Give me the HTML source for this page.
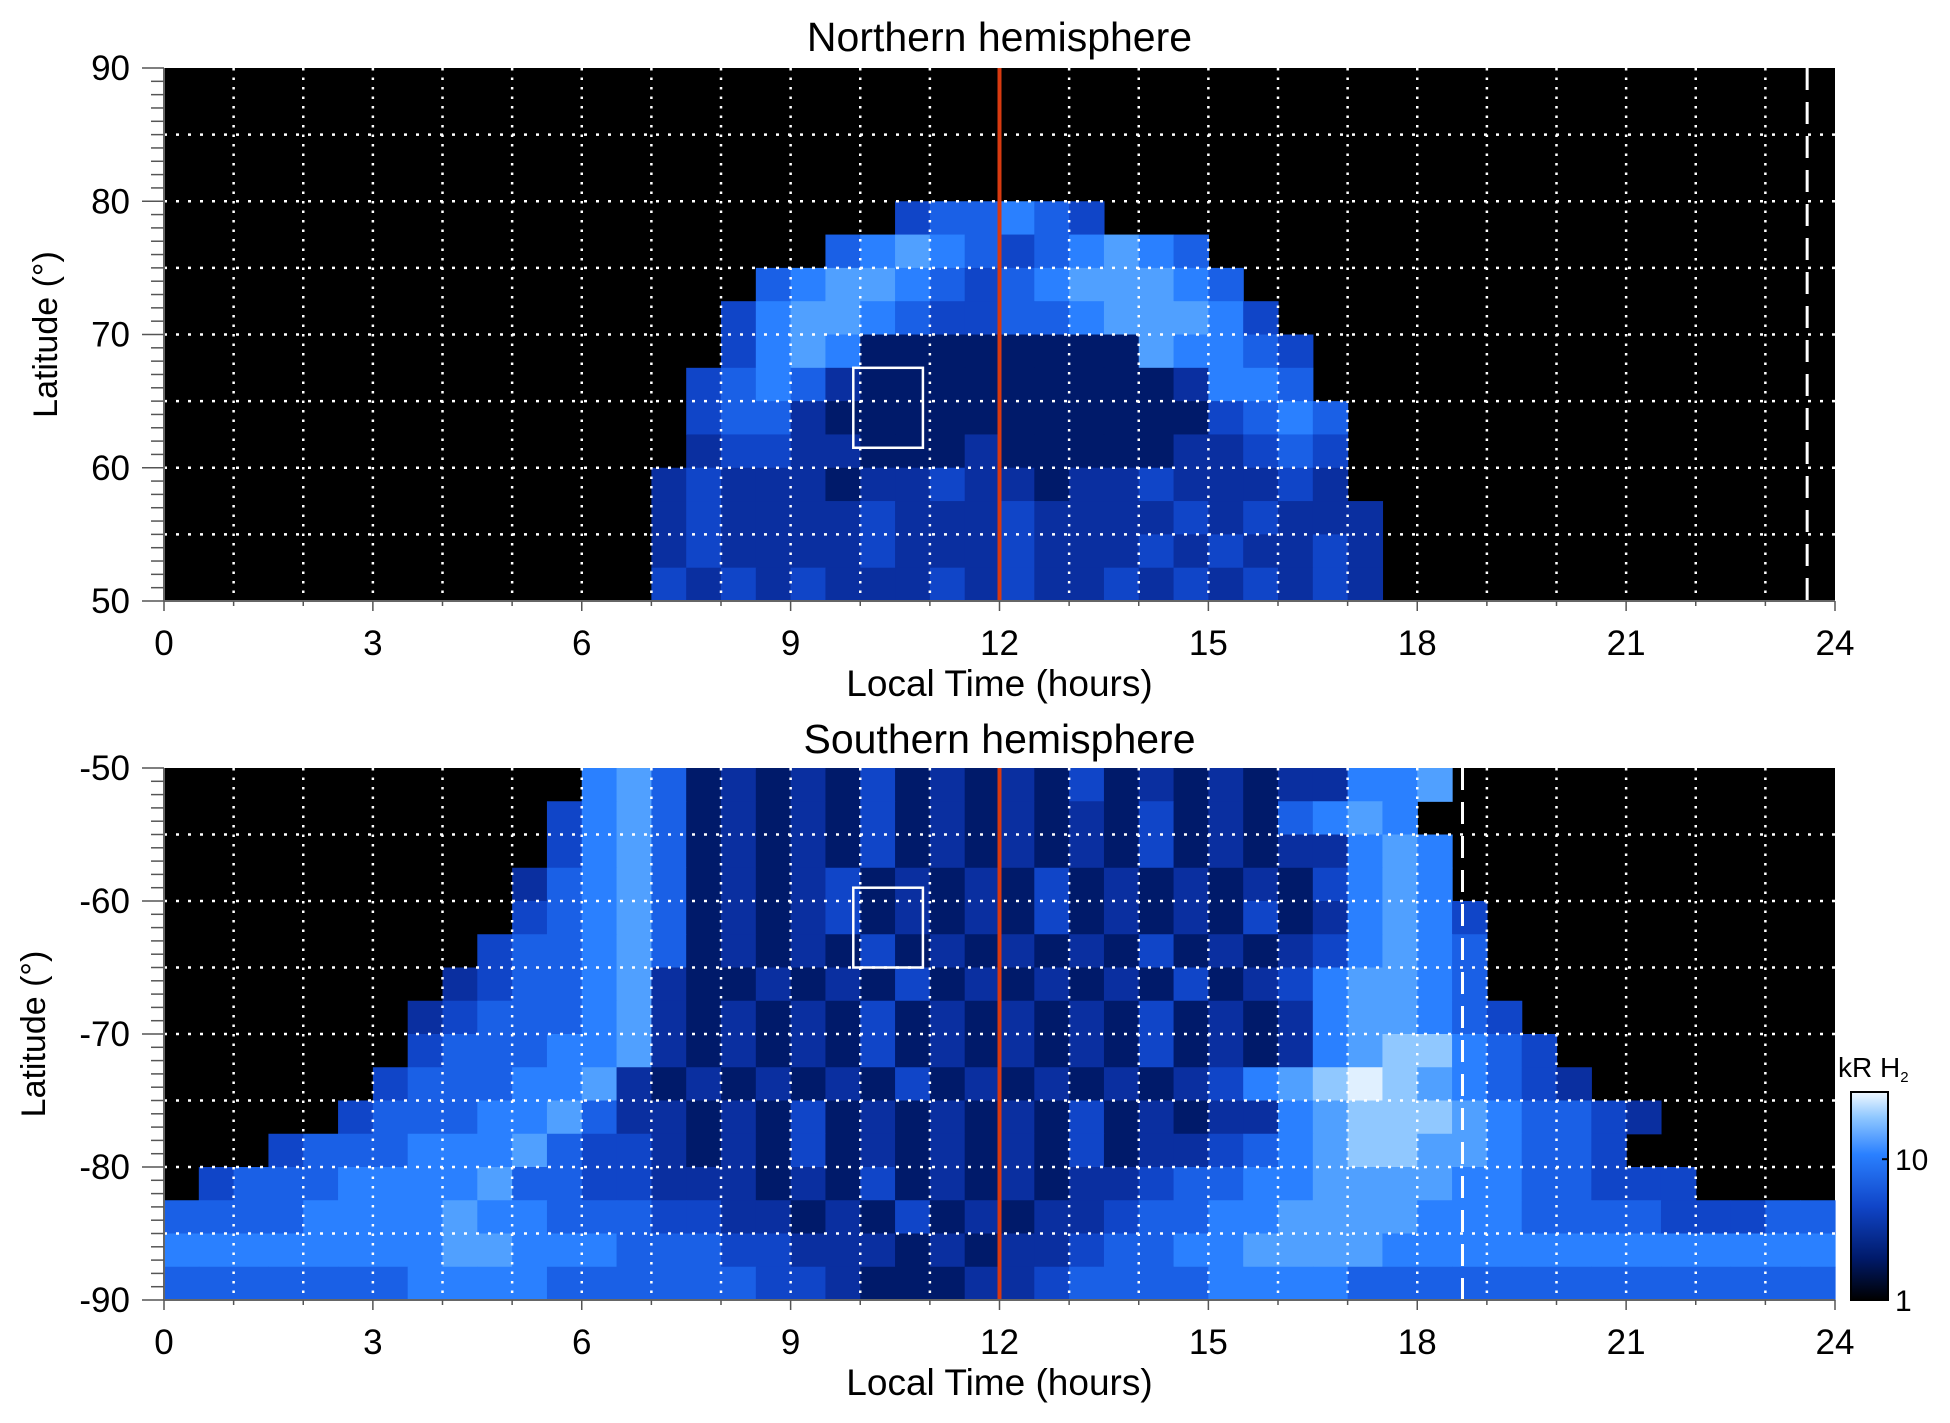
<!DOCTYPE html>
<html><head><meta charset="utf-8"><style>
html,body{margin:0;padding:0;background:#fff;}
svg{display:block;font-family:"Liberation Sans",sans-serif;}
</style></head><body>
<svg id="chart" width="1950" height="1423" viewBox="0 0 1950 1423" xmlns="http://www.w3.org/2000/svg">
<defs>
<linearGradient id="cbar" x1="0" y1="1" x2="0" y2="0">
<stop offset="0" stop-color="#000000"/><stop offset="0.2" stop-color="#001a6a"/>
<stop offset="0.45" stop-color="#1045c8"/><stop offset="0.7" stop-color="#2a80ff"/>
<stop offset="0.88" stop-color="#90c8ff"/><stop offset="1" stop-color="#f0f8ff"/>
</linearGradient>
</defs>
</svg>
<script>
// ---- data ----
const northRowStarts = [0,0,0,0,21,19,17,16,16,15,15,15,14,14,14,14];
const northRows = [
"","","","",
"455654",
"56765456765",
"56776545677765",
"4677654455677764",
"46762222222276654",
"456532222222223665",
"4553222222222224565",
"3443322232222233454",
"34333233433233433343",
"343333433343333434333",
"343333433343334343343",
"434343334343343434343"];
const southRowStarts = [12,11,11,10,10,9,8,7,7,6,5,3,1,0,0,0];
const southRows = [
"6752323242323242323233667",
"4675232324232323242325676",
"46752323242323232423233676",
"356752323423232423232324676",
"4567523234232324232324236764",
"45567523232423232324232346765",
"345567322323242323232423467765",
"34555673232324232323242323677654",
"455566732323242323232423236788654",
"45556673232323242323232346789876543",
"45556675332324232323242323367888765543",
"455566675443232423232324233456788776554",
"4555666675544333232423232334556677776655444",
"555566667665554433232423233455667777666555544455",
"666666667766655544333232334556677776666666666666",
"555555566665555554432223345555666655555555555555"];
const xTickLabels = [0,3,6,9,12,15,18,21,24];
const northYTicks = [50,60,70,80,90];
const southYTicks = [-50,-60,-70,-80,-90];
const northBox = [9.9,10.9,61.5,67.5];
const southBox = [9.9,10.9,-65,-59];
const northDashLT = 23.6;
const southDashLT = 18.65;
const noonLT = 12;
const cbarTicks = [1,10];
const cbarMax = 30;
// ---- drawing ----
const NS="http://www.w3.org/2000/svg";
const svg=document.getElementById('chart');
const palette=["#000000","#000a30","#001a6a","#0a2fa0","#1045c8","#1a60e6","#2a80ff","#50a0ff","#90c8ff","#e0f0ff"];
function mk(tag,attrs,parent){const e=document.createElementNS(NS,tag);for(const k in attrs)e.setAttribute(k,attrs[k]);(parent||svg).appendChild(e);return e;}
const X0=164,X1=1835;
function xs(lt){return X0+(X1-X0)*lt/24;}
function panel(name,top,bot,latTop,latBot,starts,rows,yTicks,box,dashLT,title,titleY){
  const g=mk('g',{});
  
  
  const ys=lat=>top+(bot-top)*(latTop-lat)/(latTop-latBot);
  mk('rect',{x:X0,y:top,width:X1-X0,height:bot-top,fill:'#000'},g);
  const nr=rows.length, dl=(latTop-latBot)/nr;
  rows.forEach((r,i)=>{
    for(let j=0;j<r.length;j++){
      const col=starts[i]+j; if(col>47)break;
      const v=+r[j]; if(!v)continue;
      const c=mk('rect',{x:xs(col/2),y:ys(latTop-i*dl),width:xs(0.5)-X0+0.6,height:ys(latTop-(i+1)*dl)-ys(latTop-i*dl)+0.6,fill:palette[v]},g);
      
      
    }
  });
  for(let h=1;h<24;h++){const l=mk('line',{x1:xs(h),x2:xs(h),y1:top,y2:bot,stroke:'#fff','stroke-width':2.5,'stroke-dasharray':'2.5,7'},g);}
  for(let la=Math.min(latTop,latBot)+5;la<Math.max(latTop,latBot);la+=5){const l=mk('line',{x1:X0,x2:X1,y1:ys(la),y2:ys(la),stroke:'#fff','stroke-width':2.5,'stroke-dasharray':'3,9'},g);}
  const d=mk('line',{x1:xs(dashLT),x2:xs(dashLT),y1:top,y2:bot,stroke:'#fff','stroke-width':3,'stroke-dasharray':'22,12'},g);
  
  const b=mk('rect',{x:xs(box[0]),y:ys(Math.max(box[2],box[3])),width:xs(box[1])-xs(box[0]),height:Math.abs(ys(box[3])-ys(box[2])),fill:'none',stroke:'#fff','stroke-width':2.5},g);
  
  const n=mk('line',{x1:xs(noonLT),x2:xs(noonLT),y1:top,y2:bot,stroke:'#d83a10','stroke-width':4},g);
  
  mk('line',{x1:X0,x2:X0,y1:top,y2:bot,stroke:'#666','stroke-width':2},g);
  mk('line',{x1:X0,x2:X1,y1:bot,y2:bot,stroke:'#666','stroke-width':2},g);
  const lo=Math.min(latTop,latBot),hi=Math.max(latTop,latBot);
  for(let la=lo;la<=hi;la++){const maj=la%10===0;mk('line',{x1:X0-(maj?22:13),x2:X0,y1:ys(la),y2:ys(la),stroke:'#555','stroke-width':1.5},g);}
  for(let h=0;h<=24;h++){const maj=h%3===0;mk('line',{x1:xs(h),x2:xs(h),y1:bot,y2:bot+(maj?10:5),stroke:'#555','stroke-width':1.5},g);}
  yTicks.forEach(t=>{const e=mk('text',{x:130,y:ys(t)+12,'font-size':35,'text-anchor':'end',fill:'#000'},g);e.textContent=t;});
  xTickLabels.forEach(t=>{const e=mk('text',{x:xs(t),y:bot+54,'font-size':35,'text-anchor':'middle',fill:'#000'},g);e.textContent=t;});
  const xt=mk('text',{x:(X0+X1)/2,y:bot+95,'font-size':37,'text-anchor':'middle'},g);xt.textContent='Local Time (hours)';
  
  const tt=mk('text',{x:(X0+X1)/2,y:titleY,'font-size':41,'text-anchor':'middle'},g);tt.textContent=title;
  
  const cy=(top+bot)/2, lx=name==='north'?57:45;
  const yt=mk('text',{x:lx,y:cy,'font-size':34,'text-anchor':'middle',transform:`rotate(-90 ${lx} ${cy})`},g);
  yt.textContent='Latitude (°)';
  
}
panel('north',68,601,90,50,northRowStarts,northRows,northYTicks,northBox,northDashLT,'Northern hemisphere',51);
panel('south',768,1300,-50,-90,southRowStarts,southRows,southYTicks,southBox,southDashLT,'Southern hemisphere',753);
const CB={x:1851,w:37,top:1092,bot:1300};
const cb=mk('rect',{x:CB.x,y:CB.top,width:CB.w,height:CB.bot-CB.top,fill:'url(#cbar)',stroke:'#000','stroke-width':2});

cbarTicks.forEach(v=>{const y=CB.bot-(CB.bot-CB.top)*Math.log10(v)/Math.log10(cbarMax);
  const t=mk('text',{x:CB.x+CB.w+7,y:y+11,'font-size':30});t.textContent=v;
  
  mk('line',{x1:CB.x+CB.w-6,x2:CB.x+CB.w,y1:y,y2:y,stroke:'#000','stroke-width':2});});
const ct=mk('text',{x:1838,y:1077,'font-size':28});

ct.innerHTML='kR H<tspan font-size="15" dy="5">2</tspan>';
</script>
</body></html>
